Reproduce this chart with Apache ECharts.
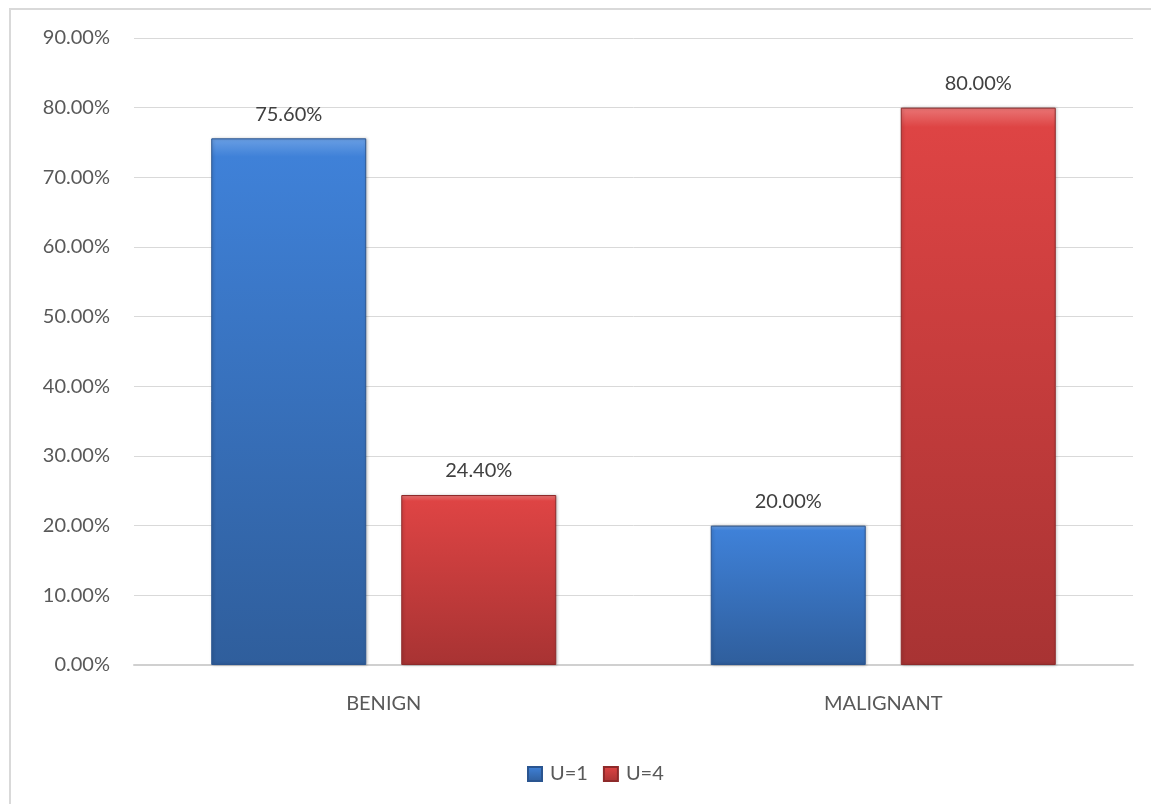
<!DOCTYPE html>
<html>
<head>
<meta charset="utf-8">
<script src="https://cdn.jsdelivr.net/npm/echarts@6/dist/echarts.min.js"></script>
<style>
  html, body { margin: 0; padding: 0; background: #ffffff; }
  #chart { width: 1151px; height: 804px; }
</style>
</head>
<body>
<div id="chart"></div>
<script>
// Share of cases per group, in percent
const categories = ['BENIGN', 'MALIGNANT'];
const seriesNames = ['U=1', 'U=4'];
const valuesU1 = [75.6, 20.0];
const valuesU4 = [24.4, 80.0];

const textColor = '#595959';
const fontFamily = 'Lato, "Open Sans", sans-serif';

// Bevelled bar fill: light rim on top, darker toward the base
function barStyle(top, mid, bottom, edge) {
  return {
    color: new echarts.graphic.LinearGradient(0, 0, 0, 1, [
      { offset: 0, color: top },
      { offset: 0.035, color: mid },
      { offset: 1, color: bottom }
    ]),
    borderColor: edge,
    borderWidth: 1,
    shadowColor: 'rgba(0,0,0,0.25)',
    shadowBlur: 3,
    shadowOffsetX: 1,
    shadowOffsetY: 0
  };
}

function valueLabel() {
  return {
    show: true,
    position: 'top',
    distance: 14,
    color: '#404040',
    fontSize: 20,
    fontFamily: fontFamily,
    formatter: p => p.value.toFixed(2) + '%'
  };
}

const chart = echarts.init(document.getElementById('chart'));
chart.setOption({
  animation: false,
  backgroundColor: '#ffffff',
  graphic: [{
    type: 'rect',
    shape: { x: 10, y: 9, width: 1200, height: 900 },
    style: { fill: 'none', stroke: '#d9d9d9', lineWidth: 2 },
    silent: true,
    z: -1
  }],
  grid: { left: 134, right: 18, top: 38, bottom: 139 },
  legend: {
    data: seriesNames,
    bottom: 15,
    left: 522,
    itemWidth: 14,
    itemHeight: 14,
    itemGap: 15,
    icon: 'rect',
    textStyle: { color: textColor, fontSize: 20, fontFamily: fontFamily, padding: [0, 0, 0, 3] }
  },
  xAxis: {
    type: 'category',
    data: categories,
    axisTick: { show: false },
    axisLine: { lineStyle: { color: '#d0d0d0', width: 2 } },
    axisLabel: { color: textColor, fontSize: 20, fontFamily: fontFamily, margin: 29 }
  },
  yAxis: {
    type: 'value',
    min: 0,
    max: 90,
    interval: 10,
    axisLine: { show: false },
    axisTick: { show: false },
    splitLine: { lineStyle: { color: '#d9d9d9', width: 1 } },
    axisLabel: {
      color: textColor,
      fontSize: 20,
      fontFamily: fontFamily,
      margin: 24,
      formatter: v => v.toFixed(2) + '%'
    }
  },
  series: [
    {
      name: seriesNames[0],
      type: 'bar',
      data: valuesU1,
      barWidth: 155,
      barGap: '22.6%',
      itemStyle: barStyle('#6a9fe4', '#3f81d8', '#2f5e9c', '#2a5590'),
      label: valueLabel()
    },
    {
      name: seriesNames[1],
      type: 'bar',
      data: valuesU4,
      barWidth: 155,
      barGap: '22.6%',
      itemStyle: barStyle('#ea7676', '#de4444', '#a83333', '#8e2a2a'),
      label: valueLabel()
    }
  ]
});
</script>
</body>
</html>
